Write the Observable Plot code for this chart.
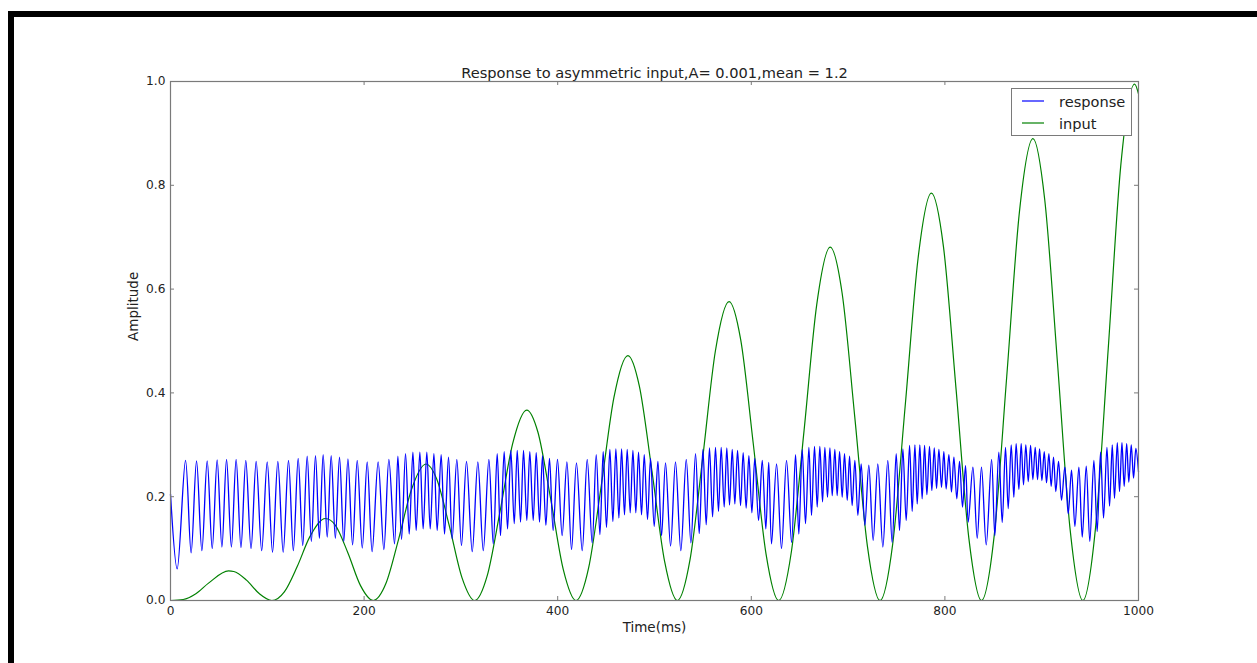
<!DOCTYPE html>
<html>
<head>
<meta charset="utf-8">
<script src="https://cdn.jsdelivr.net/npm/d3@7"></script>
<script src="https://cdn.jsdelivr.net/npm/@observablehq/plot@0.6"></script>
<style>
  html, body { margin: 0; padding: 0; background: #fff; }
  #wrap { position: relative; width: 1257px; height: 663px; overflow: hidden; background: #fff; font-family: "DejaVu Sans", sans-serif; }
  #wrap > svg { position: absolute; left: 0; top: 0; }
  .bar { position: absolute; background: #000; }
  #legend { position: absolute; box-sizing: border-box; border: 1px solid #7a7a7a; background: #fff; }
  #legend .lab { position: absolute; font-size: 14.6px; line-height: 1; color: #222; white-space: nowrap; }
  #legend svg.sw { position: absolute; overflow: visible; }
</style>
</head>
<body>
<div id="wrap"></div>
<script>
// ---------- text ----------
const titleText = "Response to asymmetric input,A= 0.001,mean = 1.2";
const xLabel = "Time(ms)";
const yLabel = "Amplitude";
const seriesNames = ["response", "input"];
const seriesColors = ["#0000ff", "#008000"];

// ---------- ticks ----------
const xTicks = [0, 200, 400, 600, 800, 1000];
const yTicks = [0.0, 0.2, 0.4, 0.6, 0.8, 1.0];

// ---------- input (green) ----------
const inputT = [
  0, 13.1, 26.2, 39.3, 60, 65.4, 78.5, 91.6,
  104.7, 117.8, 130.9, 144.0, 160, 170.2, 183.3, 196.3,
  209.4, 222.5, 235.6, 248.7, 264, 274.9, 288.0, 301.1,
  314.2, 327.2, 340.3, 353.4, 368, 379.6, 392.7, 405.8,
  418.9, 432.0, 445.1, 458.1, 472.5, 484.3, 497.4, 510.5,
  523.6, 536.7, 549.8, 562.9, 577, 589.0, 602.1, 615.2,
  628.3, 641.4, 654.5, 667.6, 681.5, 693.8, 706.9, 719.9,
  733.0, 746.1, 759.2, 772.3, 786, 798.5, 811.6, 824.7,
  837.8, 850.9, 863.9, 877.0, 891, 903.2, 916.3, 929.4,
  942.5, 955.6, 968.7, 981.7, 996, 1000
];
const inputV = [
  0, 0.0019, 0.0131, 0.0335, 0.057, 0.0559, 0.0393, 0.0134,
  0, 0.0172, 0.0655, 0.1230, 0.158, 0.1453, 0.0916, 0.0287,
  0, 0.0326, 0.1178, 0.2124, 0.263, 0.2347, 0.1440, 0.0441,
  0, 0.0479, 0.1702, 0.3018, 0.367, 0.3242, 0.1963, 0.0594,
  0, 0.0633, 0.2226, 0.3912, 0.472, 0.4136, 0.2487, 0.0747,
  0, 0.0786, 0.2749, 0.4807, 0.576, 0.5030, 0.3011, 0.0900,
  0, 0.0939, 0.3273, 0.5701, 0.681, 0.5925, 0.3534, 0.1054,
  0, 0.1092, 0.3796, 0.6595, 0.785, 0.6819, 0.4058, 0.1207,
  0, 0.1245, 0.4320, 0.7489, 0.890, 0.7713, 0.4582, 0.1360,
  0, 0.1399, 0.4844, 0.8383, 0.995, 0.976
];

// ---------- response (blue): read extrema ----------
const responseEdgeT = [0, 1000];
const responseEdgeV = [0.205, 0.248];

const peakT = [
  15.5, 26.9, 37.9, 48.2, 57.9, 67.8, 77.8, 88.5, 99.9, 110.9, 121.9, 131.9, 141.2, 149.8, 157.7, 166.0, 174.6, 183.3, 192.9, 203.2,
  214.5, 225.6, 234.9, 242.8, 250.4, 257.6, 264.8, 272.1, 279.6, 287.2, 295.8, 305.8, 317.5, 328.9, 337.5, 344.7, 351.6, 358.2, 364.7, 371.2, 377.8, 384.3, 391.5, 399.8, 409.5,
  419.4, 430.5, 439.8, 447.0, 453.9, 460.1, 466.0, 471.8, 477.7, 483.5, 489.4, 495.9, 503.5, 511.4, 521.7, 532.8, 542.4, 550.0, 556.8, 563.0, 568.9, 574.7, 580.3, 585.8, 591.6, 597.5, 603.6, 611.3, 618.0,
  626.1, 636.4, 645.7, 652.6, 659.5, 665.3, 670.8, 676.0, 681.2, 686.3, 691.2, 696.3, 701.5, 707.0, 713.5, 721.4, 730.7, 741.0, 749.7, 756.6, 763.5, 769.0, 774.1, 779.0, 784.1, 789.0, 793.8, 798.9, 804.1, 809.3, 815.1, 821.3,
  828.9, 837.8, 848.2, 855.7, 862.6, 868.5, 873.6, 878.8, 883.6, 888.5, 893.3, 897.8, 902.6, 907.4, 912.2, 917.4, 923.9, 930.8, 938.4, 946.0, 953.9, 960.8, 967.4, 972.9, 978.1, 982.9, 987.8, 992.5, 997.3
];
const peakV = [
  0.270, 0.269, 0.269, 0.271, 0.272, 0.272, 0.270, 0.268, 0.267, 0.268, 0.270, 0.274, 0.278, 0.279, 0.281, 0.279, 0.276, 0.273, 0.270, 0.267,
  0.267, 0.272, 0.278, 0.283, 0.286, 0.286, 0.286, 0.283, 0.281, 0.276, 0.272, 0.268, 0.267, 0.272, 0.283, 0.287, 0.289, 0.289, 0.289, 0.287, 0.285, 0.279, 0.274, 0.272, 0.267,
  0.265, 0.272, 0.281, 0.287, 0.291, 0.292, 0.292, 0.291, 0.289, 0.286, 0.281, 0.274, 0.268, 0.265, 0.267, 0.272, 0.283, 0.291, 0.294, 0.295, 0.295, 0.294, 0.291, 0.289, 0.285, 0.279, 0.274, 0.270, 0.266,
  0.263, 0.270, 0.281, 0.291, 0.295, 0.297, 0.297, 0.295, 0.294, 0.291, 0.287, 0.283, 0.278, 0.270, 0.263, 0.261, 0.263, 0.270, 0.283, 0.292, 0.299, 0.300, 0.300, 0.299, 0.297, 0.294, 0.291, 0.287, 0.281, 0.276, 0.268, 0.260,
  0.257, 0.257, 0.272, 0.286, 0.295, 0.300, 0.302, 0.302, 0.300, 0.299, 0.295, 0.292, 0.287, 0.283, 0.276, 0.268, 0.257, 0.251, 0.257, 0.259, 0.270, 0.286, 0.295, 0.300, 0.304, 0.304, 0.302, 0.300, 0.293
];

const troughT = [
  6.9, 21.3, 32.4, 43.1, 53.1, 62.9, 72.8, 83.2, 94.2, 105.4, 116.4, 126.9, 136.6, 145.5, 153.8, 161.9, 170.3, 179.0, 188.1, 198.1,
  208.3, 220.4, 231.4, 238.7, 246.6, 253.8, 261.0, 268.3, 275.5, 283.1, 291.0, 300.6, 311.7, 323.1, 333.4, 340.9, 348.2, 355.1, 361.6, 368.1, 374.7, 381.2, 387.8, 395.3, 404.6,
  414.3, 425.3, 435.6, 443.6, 450.4, 457.0, 463.2, 469.0, 474.9, 480.7, 486.6, 492.8, 499.7, 507.3, 516.6, 527.2, 537.6, 546.2, 553.4, 560.0, 566.1, 572.0, 577.5, 583.0, 588.9, 594.7, 600.6, 607.5, 615.0,
  620.9, 631.2, 641.6, 649.1, 656.0, 662.2, 668.1, 673.6, 678.7, 683.6, 688.7, 693.9, 699.1, 704.2, 710.1, 717.3, 725.9, 735.9, 745.5, 753.1, 760.0, 766.2, 771.4, 776.5, 781.4, 786.5, 791.4, 796.5, 801.3, 806.8, 812.3, 818.2, 824.1,
  833.4, 842.7, 851.6, 859.2, 865.4, 871.2, 876.4, 881.2, 886.1, 890.9, 895.7, 900.2, 905.0, 909.8, 914.6, 920.5, 927.4, 934.3, 941.9, 949.7, 957.3, 963.9, 970.1, 975.2, 980.4, 985.2, 990.0, 994.9
];
const troughV = [
  0.061, 0.092, 0.096, 0.100, 0.103, 0.103, 0.102, 0.100, 0.096, 0.093, 0.093, 0.096, 0.106, 0.114, 0.120, 0.122, 0.120, 0.114, 0.107, 0.101,
  0.094, 0.098, 0.109, 0.118, 0.128, 0.135, 0.138, 0.138, 0.135, 0.128, 0.119, 0.106, 0.094, 0.096, 0.109, 0.125, 0.138, 0.148, 0.151, 0.154, 0.154, 0.151, 0.145, 0.135, 0.125,
  0.098, 0.096, 0.111, 0.127, 0.141, 0.152, 0.159, 0.165, 0.169, 0.169, 0.165, 0.156, 0.143, 0.125, 0.105, 0.096, 0.111, 0.129, 0.146, 0.161, 0.172, 0.180, 0.184, 0.186, 0.183, 0.178, 0.169, 0.154, 0.138,
  0.109, 0.100, 0.112, 0.128, 0.148, 0.164, 0.180, 0.190, 0.199, 0.202, 0.202, 0.199, 0.193, 0.183, 0.164, 0.145, 0.116, 0.103, 0.112, 0.135, 0.154, 0.172, 0.186, 0.196, 0.204, 0.212, 0.216, 0.218, 0.215, 0.209, 0.196, 0.180, 0.151,
  0.120, 0.107, 0.125, 0.150, 0.177, 0.199, 0.214, 0.223, 0.229, 0.233, 0.233, 0.231, 0.227, 0.220, 0.210, 0.193, 0.167, 0.143, 0.122, 0.114, 0.133, 0.159, 0.182, 0.197, 0.210, 0.220, 0.228, 0.236
];

// ---------- build tables ----------
const inputData = inputT.map((t, i) => ({t, v: inputV[i]}));
const responseData = [
  ...responseEdgeT.map((t, i) => ({t, v: responseEdgeV[i]})),
  ...peakT.map((t, i) => ({t, v: peakV[i]})),
  ...troughT.map((t, i) => ({t, v: troughV[i]}))
].sort((a, b) => a.t - b.t);

// ---------- layout ----------
const W = 1257, H = 663;
const mL = 170, mR = 119, mT = 81, mB = 63;
const innerW = W - mL - mR;
const innerH = H - mT - mB;
const spine = "#7a7a7a";
const tickLen = 4;

const chart = Plot.plot({
  width: W,
  height: H,
  marginLeft: mL,
  marginRight: mR,
  marginTop: mT,
  marginBottom: mB,
  style: {fontFamily: "DejaVu Sans", fontSize: "12.2px", color: "#222", background: "transparent", overflow: "visible"},
  x: {domain: [0, 1000]},
  y: {domain: [0, 1]},
  marks: [
    Plot.line(inputData, {x: "t", y: "v", stroke: seriesColors[1], strokeWidth: 1.2, curve: "monotone-x"}),
    Plot.line(responseData, {x: "t", y: "v", stroke: seriesColors[0], strokeWidth: 1.3, curve: "catmull-rom"}),
    Plot.frame({stroke: spine, strokeWidth: 1.2}),
    Plot.tickX(xTicks, {x: d => d, insetTop: innerH - tickLen, stroke: spine}),
    Plot.tickX(xTicks, {x: d => d, insetBottom: innerH - tickLen, stroke: spine}),
    Plot.tickY(yTicks, {y: d => d, insetRight: innerW - tickLen, stroke: spine}),
    Plot.tickY(yTicks, {y: d => d, insetLeft: innerW - tickLen, stroke: spine}),
    Plot.axisX(xTicks, {tickSize: 0, tickPadding: 6, tickFormat: d => String(d), label: null, fill: "#222"}),
    Plot.axisY(yTicks, {tickSize: 0, tickPadding: 5, tickFormat: d => d.toFixed(1), label: null, fill: "#222"}),
    Plot.text([titleText], {frameAnchor: "top", lineAnchor: "bottom", dy: -4, fontSize: 14.6, fill: "#222"}),
    Plot.text([xLabel], {frameAnchor: "bottom", lineAnchor: "top", dy: 22, fontSize: 13.5, fill: "#222"}),
    Plot.text([yLabel], {frameAnchor: "left", rotate: -90, dx: -37, fontSize: 13.5, fill: "#222"})
  ]
});

const wrap = document.getElementById("wrap");
wrap.appendChild(chart);

// ---------- legend (top-right, inside axes) ----------
const NS = "http://www.w3.org/2000/svg";
const legend = document.createElement("div");
legend.id = "legend";
legend.style.left = "1011px";
legend.style.top = "88px";
legend.style.width = "121px";
legend.style.height = "48px";
const rowY = [12, 34];      // line centres inside the box
seriesNames.forEach((name, i) => {
  const sw = document.createElementNS(NS, "svg");
  sw.setAttribute("class", "sw");
  sw.setAttribute("width", "24");
  sw.setAttribute("height", "4");
  sw.style.left = "9px";
  sw.style.top = (rowY[i] - 2) + "px";
  const ln = document.createElementNS(NS, "line");
  ln.setAttribute("x1", "1"); ln.setAttribute("x2", "23");
  ln.setAttribute("y1", "2"); ln.setAttribute("y2", "2");
  ln.setAttribute("stroke", seriesColors[i]);
  ln.setAttribute("stroke-width", "1.2");
  sw.appendChild(ln);
  legend.appendChild(sw);
  const lab = document.createElement("div");
  lab.className = "lab";
  lab.textContent = name;
  lab.style.left = "47px";
  lab.style.top = (rowY[i] + 6 - 12.35) + "px";
  legend.appendChild(lab);
});
wrap.appendChild(legend);

// ---------- black border of the screenshot ----------
const topBar = document.createElement("div");
topBar.className = "bar";
Object.assign(topBar.style, {left: "8px", top: "11px", width: "1249px", height: "6px"});
const leftBar = document.createElement("div");
leftBar.className = "bar";
Object.assign(leftBar.style, {left: "8px", top: "11px", width: "6px", height: "652px"});
wrap.appendChild(topBar);
wrap.appendChild(leftBar);
</script>
</body>
</html>
